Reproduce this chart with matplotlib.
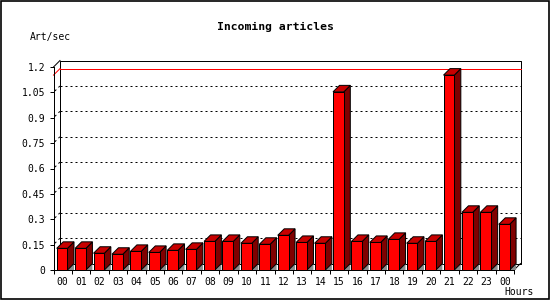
import numpy as np
import matplotlib
matplotlib.use("Agg")
import matplotlib.pyplot as plt
from matplotlib.patches import Rectangle

# =========================================================
# DATA
# =========================================================
hours = ["00", "01", "02", "03", "04", "05", "06", "07", "08", "09", "10", "11",
         "12", "13", "14", "15", "16", "17", "18", "19", "20", "21", "22", "23", "00"]
art_per_sec = [0.128, 0.128, 0.099, 0.093, 0.110, 0.104, 0.116, 0.122,
               0.169, 0.169, 0.158, 0.152, 0.205, 0.163, 0.158, 1.053,
               0.169, 0.163, 0.181, 0.158, 0.169, 1.152, 0.341, 0.341, 0.270]
y_ticks = [0, 0.15, 0.3, 0.45, 0.6, 0.75, 0.9, 1.05, 1.2]
y_tick_labels = ["0", "0.15", "0.3", "0.45", "0.6", "0.75", "0.9", "1.05", "1.2"]

# =========================================================
# SETTINGS
# =========================================================
W, H = 550, 300
AX_L, AX_R, AX_B, AX_T = 53.5, 514.0, 270.0, 67.0   # pixel box of the front plane
DEPTH_PX = 6.5                                       # 3D depth in pixels
FRONT = "#ff0000"
TOP = "#c80000"
SIDE = "#800000"
SHADOW = "#8c8c8c"
LW = 0.72
DOTS = (0, (2, 3))
MONO = "DejaVu Sans Mono"

n = len(hours)
ymax = 1.2
dxd = DEPTH_PX / ((AX_R - AX_L) / n)        # depth in data units (x)
dyd = DEPTH_PX / ((AX_B - AX_T) / ymax)     # depth in data units (y)

fig = plt.figure(figsize=(W / 100, H / 100), dpi=100)
fig.patch.set_facecolor("white")
ax = fig.add_axes([AX_L / W, (H - AX_B) / H, (AX_R - AX_L) / W, (AX_B - AX_T) / H])
ax.set_xlim(0, n)
ax.set_ylim(0, ymax)
ax.patch.set_alpha(0)

for s in ["top", "right"]:
    ax.spines[s].set_visible(False)
for s in ["left", "bottom"]:
    ax.spines[s].set_linewidth(LW)

# back plane frame
back_x = [dxd, n + dxd, n + dxd, dxd, dxd]
back_y = [dyd, dyd, ymax + dyd, ymax + dyd, dyd]
ax.plot(back_x, back_y, color="black", lw=LW, clip_on=False, zorder=1)
ax.plot([0, dxd], [ymax, ymax + dyd], color="black", lw=LW, clip_on=False, zorder=1)
ax.plot([n, n + dxd], [0, dyd], color="black", lw=LW, clip_on=False, zorder=1)

# dotted grid on back plane
for v in y_ticks[1:-1]:
    ax.plot([dxd, n + dxd], [v + dyd, v + dyd], color="black", lw=LW,
            linestyle=DOTS, clip_on=False, zorder=1)
    ax.plot([0, dxd], [v, v + dyd], color="black", lw=LW,
            linestyle=(3, (2, 3)), clip_on=False, zorder=1)

# max line
vmax = max(art_per_sec)
ax.plot([dxd, n + dxd], [vmax + dyd, vmax + dyd], color="red", lw=LW,
        clip_on=False, zorder=1.5)
ax.plot([0, dxd], [vmax, vmax + dyd], color="red", lw=LW, clip_on=False, zorder=1.5)

# 3D bars
x0 = np.arange(n) + 0.174
bw = 0.586
for i, v in enumerate(art_per_sec):
    xl, xr = x0[i], x0[i] + bw
    ax.fill([xr, xr + dxd, xr + dxd], [0, dyd, 0], color=SHADOW, lw=0,
            clip_on=False, zorder=2)
    ax.fill([xr, xr + dxd, xr + dxd, xr], [0, dyd, v + dyd, v],
            facecolor=SIDE, edgecolor="black", lw=LW, clip_on=False, zorder=3)
    ax.fill([xl, xr, xr + dxd, xl + dxd], [v, v, v + dyd, v + dyd],
            facecolor=TOP, edgecolor="black", lw=LW, clip_on=False, zorder=3)
ax.bar(x0, art_per_sec, width=bw, align="edge", color=FRONT,
       edgecolor="black", linewidth=LW, zorder=4, clip_on=False)

# axes ticks
ax.set_yticks(y_ticks, y_tick_labels)
ax.set_xticks(np.arange(n + 1))
ax.set_xticklabels([])
ax.set_xticks(np.arange(n) + 0.5, hours, minor=True)
ax.tick_params(axis="both", which="major", direction="out", length=3, width=LW,
               labelsize=7, pad=3)
ax.tick_params(axis="x", which="minor", length=0, labelsize=7, pad=5)
for lab in ax.get_yticklabels() + ax.get_xticklabels(minor=True):
    lab.set_fontfamily(MONO)

# texts
fig.text(275 / W, 1 - 27 / H, "Incoming articles", ha="center", va="center",
         fontsize=8.2, fontweight="bold", family=MONO)
fig.text(30 / W, 1 - 37 / H, "Art/sec", ha="left", va="center",
         fontsize=7, family=MONO)
fig.text(534 / W, 1 - 292 / H, "Hours", ha="right", va="center",
         fontsize=7, family=MONO)

# outer border
fig.add_artist(Rectangle((0.001, 0.002), 0.997, 0.995, transform=fig.transFigure,
                         fill=False, edgecolor="black", lw=1.2))

fig.savefig("out.png", dpi=100)
